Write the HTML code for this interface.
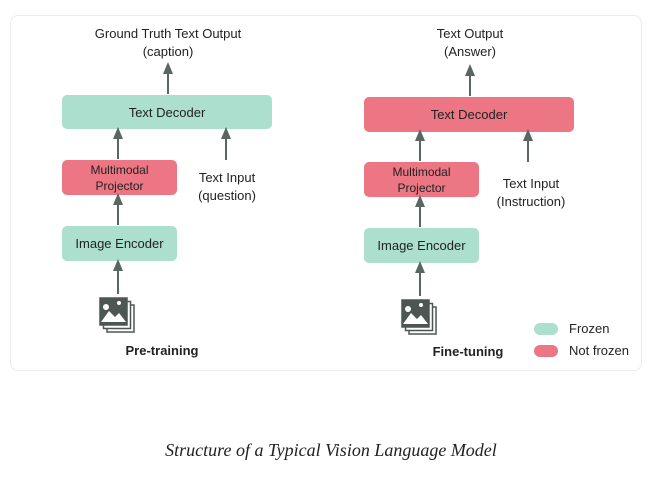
<!DOCTYPE html>
<html><head><style>
body{margin:0;background:#fff;width:662px;height:484px;position:relative;overflow:hidden;font-family:"Liberation Sans",sans-serif;color:#222}
.card{position:absolute;left:10px;top:15px;width:632px;height:356px;border:1px solid #ececec;border-radius:8px;box-sizing:border-box}
.b{position:absolute;border-radius:5px;display:flex;align-items:center;justify-content:center;text-align:center;font-size:13px;line-height:15px;color:#222}
.g{background:#acdfcd}.r{background:#ec7683}
.t{position:absolute;font-size:13px;line-height:18px;text-align:center;transform:translateX(-50%);white-space:nowrap;color:#222}
.cap{position:absolute;left:0;width:662px;top:440px;text-align:center;font-family:"Liberation Serif",serif;font-style:italic;font-size:18px;color:#222}
svg{position:absolute;left:0;top:0}
</style></head><body>
<div class="card"></div>
<div class="t" style="left:168px;top:25px">Ground Truth Text Output<br>(caption)</div>
<div class="b g" style="left:62px;top:95px;width:210px;height:34px">Text Decoder</div>
<div class="b r" style="left:62px;top:160px;width:115px;height:35px;font-size:12px;line-height:16px">Multimodal<br>Projector</div>
<div class="b g" style="left:62px;top:226px;width:115px;height:35px">Image Encoder</div>
<div class="t" style="left:227px;top:169px">Text Input<br>(question)</div>
<div class="t" style="left:162px;top:342px;font-weight:bold">Pre-training</div>

<div class="t" style="left:470px;top:25px">Text Output<br>(Answer)</div>
<div class="b r" style="left:364px;top:97px;width:210px;height:35px">Text Decoder</div>
<div class="b r" style="left:364px;top:162px;width:115px;height:35px;font-size:12px;line-height:16px">Multimodal<br>Projector</div>
<div class="b g" style="left:364px;top:228px;width:115px;height:35px">Image Encoder</div>
<div class="t" style="left:531px;top:175px">Text Input<br>(Instruction)</div>
<div class="t" style="left:468px;top:343px;font-weight:bold">Fine-tuning</div>

<div class="b g" style="left:534px;top:323px;width:24px;height:12px;border-radius:6px"></div>
<div class="b r" style="left:534px;top:345px;width:24px;height:12px;border-radius:6px"></div>
<div style="position:absolute;left:569px;top:321px;font-size:13px">Frozen</div>
<div style="position:absolute;left:569px;top:343px;font-size:13px">Not frozen</div>

<svg width="662" height="484">
<defs><marker id="a" markerWidth="6" markerHeight="6" refX="3" refY="3" orient="auto"><path d="M0,0.5 L6,3 L0,5.5z" fill="#5a6661"/></marker></defs>
<g stroke="#5a6661" stroke-width="2" marker-end="url(#a)">
<line x1="168" y1="94" x2="168" y2="68"/>
<line x1="118" y1="159" x2="118" y2="133"/>
<line x1="118" y1="225" x2="118" y2="199"/>
<line x1="226" y1="160" x2="226" y2="133"/>
<line x1="118" y1="294" x2="118" y2="265"/>
<line x1="470" y1="96" x2="470" y2="70"/>
<line x1="420" y1="161" x2="420" y2="135"/>
<line x1="420" y1="227" x2="420" y2="201"/>
<line x1="528" y1="162" x2="528" y2="135"/>
<line x1="420" y1="296" x2="420" y2="267"/>
</g>
<g id="ic" fill="none" stroke="#4d5652" stroke-width="1.5">
<rect x="107" y="305" width="27" height="27"/>
<rect x="103.5" y="301.5" width="27" height="27" fill="#fff"/>
<rect x="100" y="298" width="27" height="27" fill="#4d5652"/>
<path d="M101,322 L109,311 L115,317 L119,313 L126,322z" fill="#fff" stroke="none"/>
<circle cx="119" cy="303" r="2" fill="#fff" stroke="none"/>
<circle cx="106" cy="307" r="3" fill="#fff" stroke="none"/>
</g>
<use href="#ic" x="302" y="2"/>
</svg>
<div class="cap">Structure of a Typical Vision Language Model</div>
</body></html>
